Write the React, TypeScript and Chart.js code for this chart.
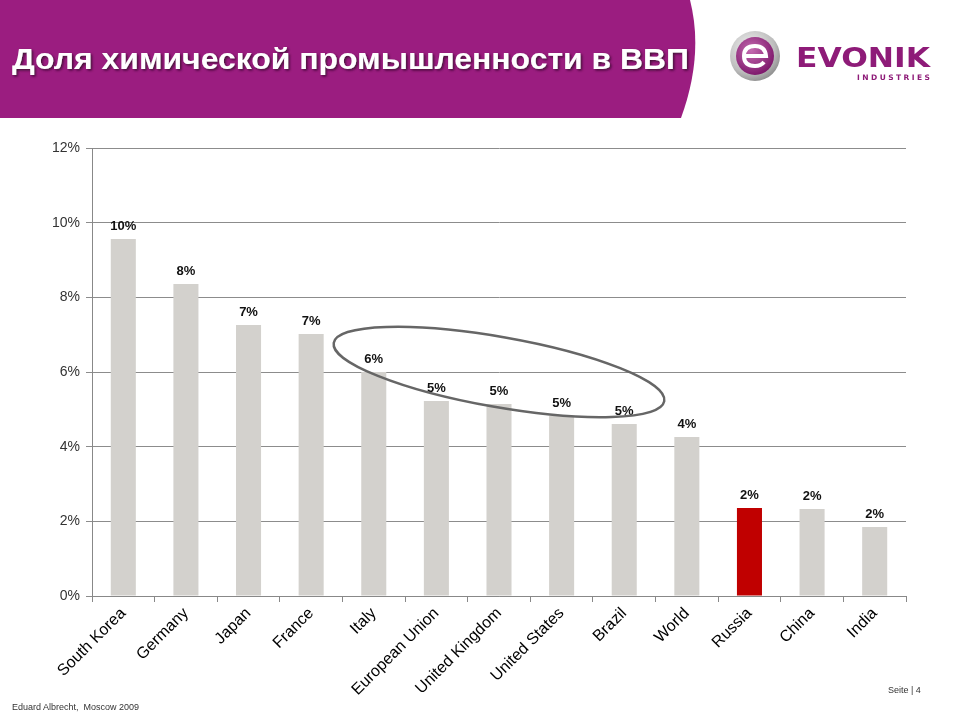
import React, { useEffect, useRef } from "react";
import { Chart, registerables } from "chart.js";

Chart.register(...registerables);

const categories = [
  "South Korea", "Germany", "Japan", "France", "Italy", "European Union",
  "United Kingdom", "United States", "Brazil", "World", "Russia", "China", "India",
];
const shareValues = [9.56, 8.36, 7.26, 7.02, 6.0, 5.22, 5.14, 4.82, 4.61, 4.26, 2.36, 2.33, 1.85];
const valueLabels = ["10%", "8%", "7%", "7%", "6%", "5%", "5%", "5%", "5%", "4%", "2%", "2%", "2%"];
const highlightCategory = "Russia";
const yTicks = [0, 2, 4, 6, 8, 10, 12];
const titleText = "Доля химической промышленности в ВВП";
const footerLeft = "Eduard Albrecht,  Moscow 2009";
const footerRight = "Seite | 4";
// annotation ellipse: spans categories from Italy to Brazil around the 6% level
const ellipseFrom = 4;
const ellipseTo = 8;
const ellipseValue = 6.0;

const GREY = "#d3d1cd";
const RED = "#c00000";
const PURPLE = "#9b1d80";

const labelPlugin = {
  id: "valueLabels",
  afterDatasetsDraw(chart: any) {
    const ctx = chart.ctx;
    const meta = chart.getDatasetMeta(0);
    ctx.save();
    ctx.font = "bold 13px 'Liberation Sans', Arial, sans-serif";
    ctx.fillStyle = "#111";
    ctx.textAlign = "center";
    ctx.textBaseline = "bottom";
    meta.data.forEach((bar: any, i: number) => {
      ctx.fillText(valueLabels[i], bar.x, bar.y - 6);
    });
    // ellipse annotation
    const xs = chart.scales.x;
    const ys = chart.scales.y;
    const x1 = xs.getPixelForValue(ellipseFrom);
    const x2 = xs.getPixelForValue(ellipseTo);
    const cx = (x1 + x2) / 2;
    const cy = ys.getPixelForValue(ellipseValue);
    const rx = ((x2 - x1) / 2) * 1.34;
    const ry = (ys.getPixelForValue(0) - ys.getPixelForValue(1)) * 0.94;
    ctx.beginPath();
    ctx.ellipse(cx, cy, rx, ry, (10 * Math.PI) / 180, 0, Math.PI * 2);
    ctx.strokeStyle = "#666";
    ctx.lineWidth = 2.5;
    ctx.stroke();
    ctx.restore();
  },
};

export default function App() {
  const ref = useRef<HTMLCanvasElement>(null);
  useEffect(() => {
    document.body.style.margin = "0";
    const chart = new Chart(ref.current!, {
      type: "bar",
      data: {
        labels: categories,
        datasets: [
          {
            data: shareValues,
            backgroundColor: categories.map((c) => (c === highlightCategory ? RED : GREY)),
            barPercentage: 0.4,
            categoryPercentage: 1,
          },
        ],
      },
      options: {
        animation: false,
        responsive: false,
        maintainAspectRatio: false,
        layout: { padding: { top: 148, right: 54, left: 0, bottom: 0 } },
        plugins: { legend: { display: false }, tooltip: { enabled: false } },
        scales: {
          x: {
            afterFit: (s: any) => {
              s.height = 124;
            },
            grid: { drawOnChartArea: false, drawTicks: true, tickLength: 6, color: "#888", offset: true },
            border: { color: "#888", width: 1 },
            ticks: {
              minRotation: 45,
              maxRotation: 45,
              autoSkip: false,
              color: "#000",
              padding: 2,
              font: { family: "'Liberation Sans', Arial, sans-serif", size: 16 },
            },
          },
          y: {
            min: 0,
            max: 12,
            afterFit: (s: any) => {
              s.width = 92;
            },
            afterBuildTicks: (s: any) => {
              s.ticks = yTicks.map((v) => ({ value: v }));
            },
            grid: { color: "#8c8c8c", tickLength: 6, lineWidth: 1 },
            border: { color: "#888", width: 1 },
            ticks: {
              color: "#333",
              padding: 6,
              callback: (v: any) => v + "%",
              font: { family: "'Liberation Sans', Arial, sans-serif", size: 14 },
            },
          },
        },
      } as any,
      plugins: [labelPlugin],
    });
    return () => chart.destroy();
  }, []);

  return (
    <div style={{ position: "relative", width: 960, height: 720, background: "#fff", overflow: "hidden" }}>
      <canvas ref={ref} width={960} height={720} style={{ position: "absolute", left: 0, top: 0 }} />
      <svg width={960} height={120} style={{ position: "absolute", left: 0, top: 0 }}>
        <defs>
          <filter id="sh" x="-5%" y="-30%" width="110%" height="160%">
            <feDropShadow dx="1.5" dy="1.5" stdDeviation="1.2" floodColor="#3a0830" floodOpacity="0.9" />
          </filter>
          <radialGradient id="lg" cx="40%" cy="35%" r="70%">
            <stop offset="0%" stopColor="#f4f4f4" />
            <stop offset="70%" stopColor="#bdbdbd" />
            <stop offset="100%" stopColor="#8a8a8a" />
          </radialGradient>
          <radialGradient id="lp" cx="40%" cy="35%" r="70%">
            <stop offset="0%" stopColor="#c46bb0" />
            <stop offset="100%" stopColor="#7a1468" />
          </radialGradient>
        </defs>
        <path d="M0 0 L690 0 Q704 55 681 118 L0 118 Z" fill={PURPLE} />
        <text
          x={12}
          y={69}
          fill="#fff"
          filter="url(#sh)"
          textLength={677}
          lengthAdjust="spacingAndGlyphs"
          style={{ font: "bold 30px 'Liberation Sans', Arial, sans-serif" }}
        >
          {titleText}
        </text>
        <circle cx={755} cy={56} r={25} fill="url(#lg)" />
        <circle cx={755} cy={56} r={19} fill="url(#lp)" />
        <path
          d="M745 56 L766 56 Q765 46 755 46 Q744 46 744 56 Q744 66 755 66 Q761 66 764 62"
          fill="none"
          stroke="#fff"
          strokeWidth={4}
        />
        <text
          x={796}
          y={67}
          fill="#8e1b78"
          textLength={134}
          lengthAdjust="spacingAndGlyphs"
          style={{ font: "bold 27px 'DejaVu Sans', sans-serif" }}
        >
          EVONIK
        </text>
        <text
          x={857}
          y={80}
          fill="#8e1b78"
          textLength={73}
          lengthAdjust="spacing"
          style={{ font: "bold 7.5px 'DejaVu Sans', sans-serif" }}
        >
          INDUSTRIES
        </text>
      </svg>
      <div
        style={{
          position: "absolute",
          left: 12,
          top: 702,
          fontFamily: "'Liberation Sans', Arial, sans-serif",
          fontSize: 9,
          color: "#333",
          whiteSpace: "pre",
        }}
      >
        {footerLeft}
      </div>
      <div
        style={{
          position: "absolute",
          left: 888,
          top: 685,
          fontFamily: "'Liberation Sans', Arial, sans-serif",
          fontSize: 9,
          color: "#333",
          whiteSpace: "pre",
        }}
      >
        {footerRight}
      </div>
    </div>
  );
}
